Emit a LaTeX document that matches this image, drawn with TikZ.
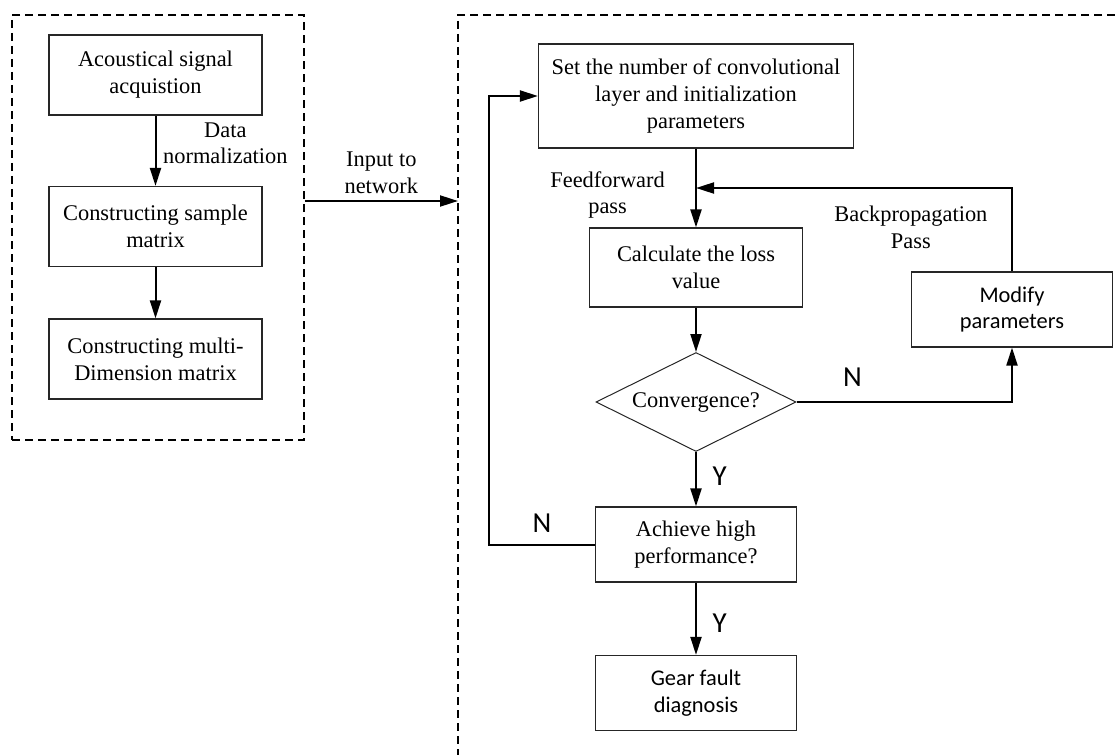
\documentclass[tikz,border=0pt]{standalone}
\usepackage{fontspec}
\setmainfont{Liberation Serif}
\newfontfamily\calfont{Carlito}
\usetikzlibrary{arrows.meta,shapes.geometric,positioning}

\begin{document}
\begin{tikzpicture}[x=0.5pt, y=-0.5pt, node distance=72pt, >={Triangle[length=9pt,width=5.5pt]},
    font=\fontsize{11.2}{13.4}\selectfont,
    box/.style={draw=black!85, line width=0.6pt, align=center, inner sep=2pt},
    bigbox/.style={box, minimum width=106.5pt, minimum height=40pt},
    smallbox/.style={box, minimum width=100.5pt, minimum height=37.5pt},
    decision/.style={draw=black!85, line width=0.5pt, diamond, aspect=2, inner sep=0pt, minimum width=100pt, minimum height=49.5pt},
    calibri/.style={font=\calfont\fontsize{11.2}{13.3}\selectfont},
    yn/.style={font=\calfont\fontsize{14.5}{16}\selectfont},
    note/.style={align=center},
    flow/.style={->, line width=1pt},
    group/.style={draw, line width=0.6pt, dash pattern=on 4pt off 2.5pt}]
    \useasboundingbox (0,0) rectangle (1115,755);
    \node (prep) [group, minimum width=146pt, minimum height=212.5pt] at (158,227.5) {};
    \draw[group] (1115,15) -| (458,755);
    \coordinate (netin) at (458,201);
    \node (acq) [bigbox] at (155.5,75) {Acoustical signal\\acquistion};
    \node (smp) [bigbox, below of=acq, yshift=-3.75pt] {Constructing sample\\matrix};
    \node (mdm) [bigbox, below of=smp, yshift=5.75pt] {Constructing multi-\\Dimension matrix};
    \node (set) [box, minimum width=157.5pt, minimum height=52pt] at (696,96) {Set the number of convolutional\\layer and initialization\\parameters};
    \node (loss) [bigbox, minimum height=39.5pt, below of=set, yshift=-13.75pt] {Calculate the loss\\value};
    \node (conv) [decision, below of=loss, yshift=4.75pt] {Convergence?};
    \node (perf) [smallbox, below of=conv, yshift=0.75pt] {Achieve high\\performance?};
    \node (gear) [smallbox, calibri, below of=perf, yshift=-2.25pt] {Gear fault\\diagnosis};
    \node (modify) [smallbox, calibri, right of=loss, xshift=86pt, yshift=-21pt] {Modify\\parameters};
    \path (set.south) -- coordinate (merge) (loss.north);
    \draw[flow] (acq) -- node[right, yshift=3.75pt, note] {Data\\normalization} (smp);
    \draw[flow] (smp) -- (mdm);
    \draw[flow] (prep.east |- netin) -- node[above, note] {Input to\\network} (netin);
    \draw[flow] (set) -- node[left=11.75pt, yshift=-3.5pt, note] {Feedforward\\pass} (loss);
    \draw[flow] (loss) -- (conv);
    \draw[flow] (conv) -| node[pos=0.13, above=4pt, yn] {N} (modify);
    \draw[flow] (modify) |- node[pos=0.66, below=5pt, note] {Backpropagation\\Pass} (merge);
    \draw[flow] (conv) -- node[right=4.5pt, yshift=1.5pt, yn] {Y} (perf);
    \draw[flow] (perf) -- node[right=4.5pt, yshift=-2pt, yn] {Y} (gear);
    \draw[flow] (perf.west) -- node[above=2pt, yn] {N} ++(-106,0) |- (set.west);
\end{tikzpicture}
\end{document}
